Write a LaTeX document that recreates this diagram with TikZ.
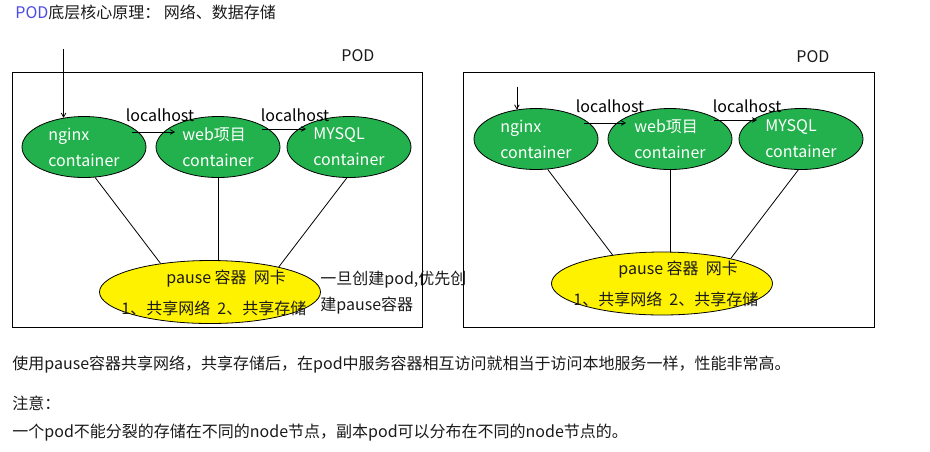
\documentclass[tikz,border=0pt]{standalone}
\usepackage{fontspec}
\setmainfont{Noto Sans CJK SC}
\usetikzlibrary{arrows,shapes.geometric}
\definecolor{paintgreen}{HTML}{22B14C}
\definecolor{paintyellow}{HTML}{FFF200}
\definecolor{podblue}{HTML}{4B4BE6}
\definecolor{inktext}{HTML}{1A1A1A}
\tikzset{
  container/.style={ellipse,draw,fill=paintgreen,text=white,align=left,
    minimum width=124pt,minimum height=61pt,inner sep=0pt,
    font=\fontsize{16}{26}\selectfont},
  pausebox/.style={ellipse,draw,fill=paintyellow,minimum width=221pt,
    minimum height=63pt,inner sep=0pt},
  txt/.style={anchor=base west,inner sep=0pt,text=inktext,
    font=\fontsize{16}{19}\selectfont},
  host/.style={inner sep=0pt,font=\fontsize{16}{19}\selectfont},
}
\begin{document}
\begin{tikzpicture}[x=1pt,y=-1pt,line width=0.8pt,>=angle 60]
\useasboundingbox (0,0) rectangle (930,451);
\node[txt] (title) at (15,18.5) {\textcolor{podblue}{POD}底层核心原理： 网络、数据存储};

% left pod
\draw (12,72) rectangle (422,327);
\node[txt] (podLname) at (341,61.5) {POD};
\node[container] (nginxL) at (84,147) {nginx\\container};
\node[container] (webL) at (218,147) {web项目\\container};
\node[container] (mysqlL) at (349,147) {MYSQL\\container};
\node[pausebox] (pauseL) at (210,292) {};
\node[txt] (pauseLa) at (166,283) {pause 容器\ \ 网卡};
\node[txt] (pauseLb) at (121,314) {1、共享网络\ \ 2、共享存储};
\node[txt] (noteLa) at (320,284) {一旦创建pod,优先创};
\node[txt] (noteLb) at (320,310) {建pause容器};
\coordinate (inL) at ([yshift=69pt]nginxL.125);
\draw[->] (inL) -- (nginxL.125);
\draw[->] ([shift={(48pt,15pt)}]nginxL.center) -- node[host,pos=.65,above=10pt] {localhost} ([shift={(-43pt,15pt)}]webL.center);
\draw[->] ([shift={(44pt,18pt)}]webL.center) -- node[host,pos=.75,above=7pt] {localhost} ([shift={(-43pt,18pt)}]mysqlL.center);
\draw (nginxL.-70) -- (pauseL.150);
\draw (webL.south) -- (webL.south |- pauseL.north);
\draw (mysqlL.-94) -- (pauseL.20);

% right pod
\draw (463,72) rectangle (874,327);
\node[txt] (podRname) at (796,62.5) {POD};
\node[container] (nginxR) at (536,139) {nginx\\container};
\node[container] (webR) at (670,139) {web项目\\container};
\node[container] (mysqlR) at (801,139) {MYSQL\\container};
\node[pausebox] (pauseR) at (662,283.5) {};
\node[txt] (pauseRa) at (618,274.5) {pause 容器\ \ 网卡};
\node[txt] (pauseRb) at (573,305.5) {1、共享网络\ \ 2、共享存储};
\coordinate (inR) at ([yshift=23pt]nginxR.123);
\draw[->] (inR) -- (nginxR.123);
\draw[->] ([shift={(48pt,16pt)}]nginxR.center) -- node[host,pos=.62,above=10pt] {localhost} ([shift={(-44pt,16pt)}]webR.center);
\draw[->] ([shift={(44pt,19pt)}]webR.center) -- node[host,pos=.77,above=7pt] {localhost} ([shift={(-44pt,19pt)}]mysqlR.center);
\draw (nginxR.-69) -- (pauseR.150);
\draw (webR.south) -- (webR.south |- pauseR.north);
\draw (mysqlR.-95) -- (pauseR.20);

% notes below
\node[txt] (sumline) at (12,369) {使用pause容器共享网络，共享存储后，在pod中服务容器相互访问就相当于访问本地服务一样，性能非常高。};
\node[txt] (notehead) at (12,409) {注意：};
\node[txt] (noteline) at (12,437) {一个pod不能分裂的存储在不同的node节点，副本pod可以分布在不同的node节点的。};
\end{tikzpicture}
\end{document}
